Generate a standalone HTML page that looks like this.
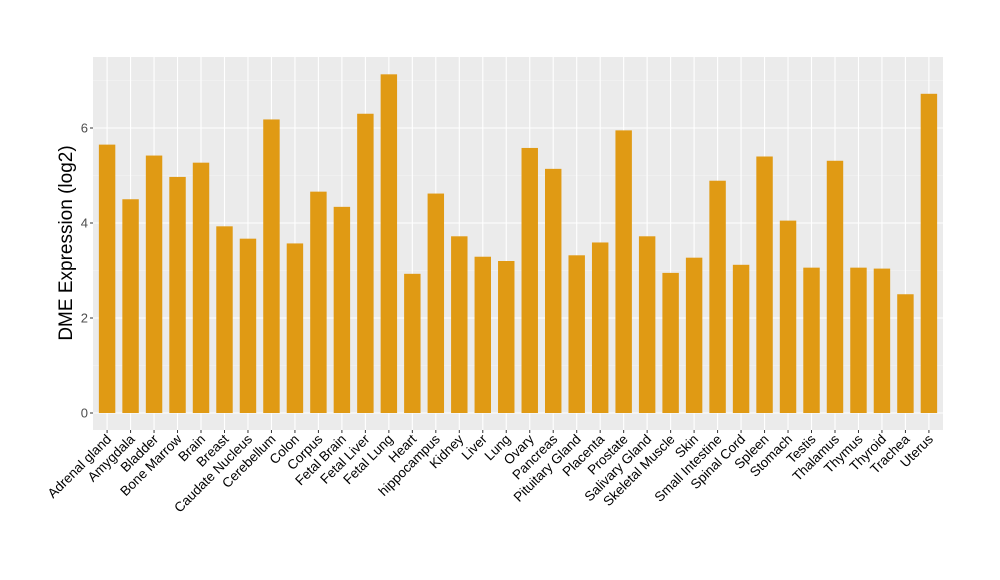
<!DOCTYPE html>
<html><head><meta charset="utf-8"><style>body{margin:0;background:#fff}svg{display:block}</style></head><body>
<svg width="1000" height="580" xmlns="http://www.w3.org/2000/svg" font-family="Liberation Sans, Arial, sans-serif">
<rect x="93" y="57" width="850" height="373" fill="#EBEBEB"/>
<g stroke="#F5F5F5" stroke-width="0.6">
<line x1="93" x2="943" y1="365.5" y2="365.5"/><line x1="93" x2="943" y1="270.5" y2="270.5"/><line x1="93" x2="943" y1="175.5" y2="175.5"/><line x1="93" x2="943" y1="80.5" y2="80.5"/>
</g>
<g stroke="#FFFFFF" stroke-width="1.1" id="grid">
<line x1="93" x2="943" y1="413" y2="413"/><line x1="93" x2="943" y1="318" y2="318"/><line x1="93" x2="943" y1="223" y2="223"/><line x1="93" x2="943" y1="128" y2="128"/>
</g>
<g id="bars"></g>
<g font-size="13" fill="#4D4D4D" text-anchor="end">
<text x="88" y="417.5">0</text><text x="88" y="322.5">2</text><text x="88" y="227.5">4</text><text x="88" y="132.5">6</text>
</g>
<g stroke="#333" stroke-width="1"><line x1="90" x2="93" y1="413" y2="413"/><line x1="90" x2="93" y1="318" y2="318"/><line x1="90" x2="93" y1="223" y2="223"/><line x1="90" x2="93" y1="128" y2="128"/></g>
<text transform="translate(72,243) rotate(-90)" text-anchor="middle" font-size="19" fill="#000">DME Expression (log2)</text>
<g id="xl"></g>
<script>
var d=[["Adrenal gland",5.65],["Amygdala",4.5],["Bladder",5.42],["Bone Marrow",4.97],["Brain",5.27],["Breast",3.93],["Caudate Nucleus",3.67],["Cerebellum",6.18],["Colon",3.57],["Corpus",4.66],["Fetal Brain",4.34],["Fetal Liver",6.3],["Fetal Lung",7.13],["Heart",2.93],["hippocampus",4.62],["Kidney",3.72],["Liver",3.29],["Lung",3.2],["Ovary",5.58],["Pancreas",5.14],["Pituitary Gland",3.32],["Placenta",3.59],["Prostate",5.95],["Salivary Gland",3.72],["Skeletal Muscle",2.95],["Skin",3.27],["Small Intestine",4.89],["Spinal Cord",3.12],["Spleen",5.4],["Stomach",4.05],["Testis",3.06],["Thalamus",5.31],["Thymus",3.06],["Thyroid",3.04],["Trachea",2.5],["Uterus",6.72]];
var ns="http://www.w3.org/2000/svg",b=document.getElementById("bars"),xl=document.getElementById("xl"),g=document.getElementById("grid");
var n=d.length,step=850/(n-1+1.2);
d.forEach(function(e,i){var c=93+(0.6+i)*step,h=e[1]*47.5,w=0.7*step;
var v=document.createElementNS(ns,"line");v.setAttribute("x1",c);v.setAttribute("x2",c);v.setAttribute("y1",57);v.setAttribute("y2",430);g.appendChild(v);
var r=document.createElementNS(ns,"rect");r.setAttribute("x",c-w/2);r.setAttribute("y",413-h);r.setAttribute("width",w);r.setAttribute("height",h);r.setAttribute("fill","#E09A14");b.appendChild(r);
var l=document.createElementNS(ns,"line");l.setAttribute("x1",c);l.setAttribute("x2",c);l.setAttribute("y1",430);l.setAttribute("y2",433);l.setAttribute("stroke","#333");xl.appendChild(l);
var t=document.createElementNS(ns,"text");t.setAttribute("transform","translate("+(c+5)+",440) rotate(-45)");t.setAttribute("text-anchor","end");t.setAttribute("font-size","13.5");t.setAttribute("fill","#000");t.textContent=e[0];xl.appendChild(t);});
</script>
</svg>
</body></html>
